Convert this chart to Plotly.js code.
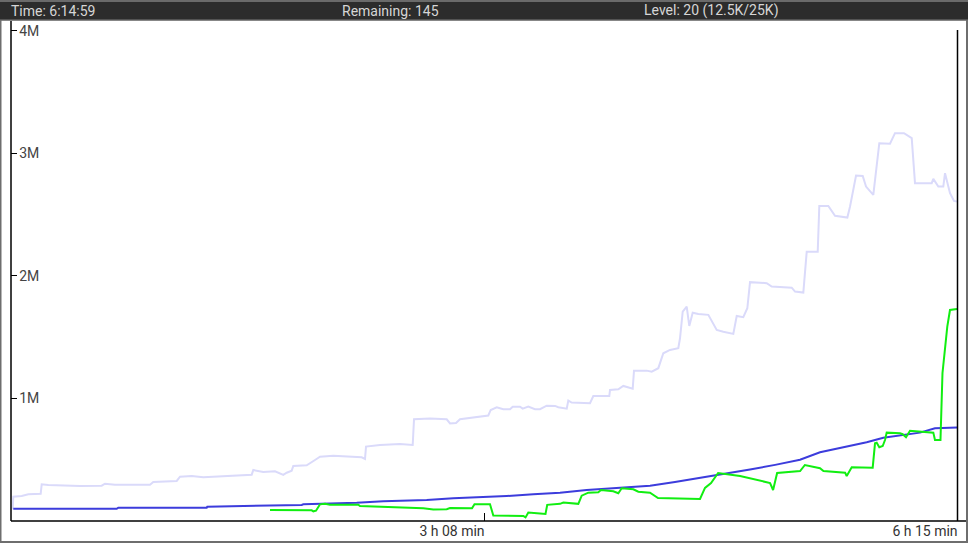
<!DOCTYPE html>
<html>
<head>
<meta charset="utf-8">
<script src="https://cdn.plot.ly/plotly-3.0.1.min.js"></script>
<style>
html,body{margin:0;padding:0;background:#fff;overflow:hidden;}
#chart{width:968px;height:543px;}
</style>
</head>
<body>
<div id="chart"></div>
<script>
// ---- data (x: minutes elapsed, y: millions) ----
const highX = [0.67,0.91,4.24,6.86,11.77,12.17,14.79,27.35,35.95,37.26,41.23,55.10,56.41,65.69,67.0,71.63,76.23,88.12,95.42,96.05,100.0,104.65,107.94,109.29,111.27,111.9,117.22,120.51,122.49,127.76,134.38,139.02,140.33,140.73,146.28,154.2,159.24,159.76,166.1,172.72,174.03,176.41,177.99,182.75,186.71,189.21,190.16,192.54,195.15,197.81,198.88,201.77,202.84,205.06,207.72,209.70,212.36,215.65,216.96,220.29,220.92,222.27,229.52,230.83,237.17,237.45,240.74,242.72,246.45,246.96,252.0,253.98,256.6,258.58,261.23,264.52,265.2,266.27,267.85,268.88,270.23,272.45,276.42,279.75,282.37,286.33,287.68,290.29,291.88,292.95,296.91,299.57,301.55,309.48,310.79,314.08,315.43,319.79,320.42,323.99,326.65,331.53,332.6,334.98,337.63,338.94,341.82,344.2,348.44,350.42,353.99,357.05,358.35,364.97,365.61,367.59,369.57,370.25,372.23,373.81,375.0];
const highY = [0.096,0.198,0.204,0.218,0.223,0.300,0.294,0.286,0.288,0.304,0.296,0.296,0.318,0.327,0.362,0.367,0.357,0.373,0.378,0.416,0.400,0.406,0.376,0.394,0.411,0.449,0.455,0.498,0.525,0.533,0.528,0.520,0.506,0.607,0.620,0.629,0.620,0.830,0.837,0.830,0.796,0.800,0.830,0.843,0.851,0.861,0.906,0.928,0.912,0.912,0.933,0.933,0.917,0.933,0.912,0.912,0.941,0.939,0.928,0.917,0.982,0.966,0.961,1.020,1.020,1.069,1.075,1.102,1.080,1.227,1.227,1.219,1.247,1.369,1.396,1.410,1.491,1.709,1.749,1.592,1.700,1.690,1.682,1.559,1.545,1.527,1.673,1.663,1.736,1.949,1.945,1.940,1.913,1.904,1.872,1.864,2.198,2.198,2.571,2.571,2.490,2.476,2.566,2.819,2.816,2.729,2.661,3.083,3.078,3.165,3.165,3.124,2.757,2.757,2.792,2.729,2.729,2.838,2.675,2.612,2.607];

const avgX = [0.91,41.9,42.54,77.58,77.82,98.03,98.71,115.24,115.87,127.76,137.04,147.58,164.79,175.33,185.92,196.5,207.05,217.63,228.21,238.76,253.31,263.2,273.13,283.0,292.95,302.9,312.77,320.7,331.28,339.21,345.79,351.1,360.33,366.27,375.0];
const avgY = [0.100,0.100,0.109,0.109,0.117,0.122,0.128,0.131,0.136,0.141,0.149,0.161,0.171,0.185,0.192,0.204,0.218,0.231,0.253,0.267,0.288,0.318,0.351,0.384,0.420,0.458,0.500,0.561,0.607,0.642,0.680,0.694,0.721,0.757,0.763];

const curX = [102.67,119.2,119.84,120.91,122.49,124.47,126.46,137.68,138.35,144.97,154.2,163.44,167.4,172.72,174.03,182.75,183.73,189.88,191.19,203.08,203.96,205.07,209.7,211.88,212.56,217.63,218.94,224.89,226.23,228.85,232.81,233.88,238.76,240.74,242.09,246.69,248.67,253.31,256.48,273.13,275.1,277.5,280.3,289.0,300.9,302.1,303.7,312.8,314.7,320.7,322.06,326.02,330.66,331.28,333.27,341.58,342.5,343.17,344.2,345.55,346.46,347.13,352.41,353.48,354.79,356.37,361.65,365.61,366.27,368.45,369.25,370.24,371.15,372.22,375.0];
const curY = [0.090,0.087,0.079,0.084,0.136,0.141,0.133,0.133,0.122,0.117,0.112,0.104,0.094,0.096,0.106,0.104,0.137,0.137,0.045,0.041,0.029,0.069,0.061,0.057,0.132,0.140,0.151,0.140,0.207,0.231,0.234,0.253,0.242,0.226,0.267,0.259,0.239,0.231,0.188,0.180,0.270,0.310,0.392,0.367,0.310,0.253,0.392,0.408,0.457,0.430,0.408,0.402,0.394,0.367,0.438,0.435,0.634,0.639,0.602,0.612,0.661,0.721,0.716,0.708,0.683,0.737,0.729,0.721,0.661,0.661,1.208,1.396,1.586,1.722,1.731];

const xTickVals = [187.5, 375];
const xTickText = ["3 h 08 min", "6 h 15 min"];
const yTickVals = [1, 2, 3, 4];
const yTickText = ["1M", "2M", "3M", "4M"];
const headerTexts = ["Time: 6:14:59", "Remaining: 145", "Level: 20 (12.5K/25K)"];

// ---- geometry helpers (paper coords) ----
const W = 968, H = 543, ML = 11, MR = 11, MT = 21, MB = 22;
const PW = W - ML - MR, PH = H - MT - MB;
const px = x => (x - ML) / PW;
const py = y => (H - MB - y) / PH;

const traces = [
  {x: highX, y: highY, mode: 'lines', line: {color: '#dadafa', width: 2}, hoverinfo: 'skip'},
  {x: avgX, y: avgY, mode: 'lines', line: {color: '#3c3cdc', width: 2}, hoverinfo: 'skip'},
  {x: curX, y: curY, mode: 'lines', line: {color: '#11ee11', width: 2}, hoverinfo: 'skip'}
];

const font = {family: 'Roboto, sans-serif', size: 14, color: '#333'};

const layout = {
  width: W, height: H,
  margin: {l: ML, r: MR, t: MT, b: MB, pad: 0},
  paper_bgcolor: '#fff', plot_bgcolor: '#fff',
  showlegend: false,
  font: font,
  xaxis: {
    range: [0, 375], showgrid: false, zeroline: false, showline: false,
    tickmode: 'array', tickvals: xTickVals, ticktext: xTickText,
    ticks: 'inside', ticklen: 8, tickwidth: 1, tickcolor: '#000',
    ticklabelshift: -32, ticklabelstandoff: 0,
    tickfont: {family: 'Roboto, sans-serif', size: 14, color: '#333'},
    fixedrange: true
  },
  yaxis: {
    range: [0, 4.08], showgrid: false, zeroline: false, showline: false,
    tickmode: 'array', tickvals: yTickVals, ticktext: yTickText,
    ticks: 'inside', ticklen: 6, tickwidth: 1, tickcolor: '#000',
    ticklabelposition: 'inside', ticklabelstandoff: 2,
    tickfont: {family: 'Roboto, sans-serif', size: 14, color: '#444'},
    fixedrange: true
  },
  shapes: [
    // header bar
    {type: 'rect', xref: 'paper', yref: 'paper', x0: px(0), x1: px(W), y0: py(20.5), y1: py(0), fillcolor: '#2c2c2c', line: {width: 0}, layer: 'above'},
    {type: 'line', xref: 'paper', yref: 'paper', x0: px(0), x1: px(W), y0: py(1), y1: py(1), line: {color: '#6a6a6a', width: 2}},
    {type: 'line', xref: 'paper', yref: 'paper', x0: px(0), x1: px(W), y0: py(20), y1: py(20), line: {color: '#7a7a7a', width: 1}},
    // outer frame
    {type: 'line', xref: 'paper', yref: 'paper', x0: px(0.5), x1: px(0.5), y0: py(20), y1: py(543), line: {color: '#6e6e6e', width: 2}},
    {type: 'line', xref: 'paper', yref: 'paper', x0: px(0), x1: px(W), y0: py(542), y1: py(542), line: {color: '#6e6e6e', width: 2}},
    {type: 'line', xref: 'paper', yref: 'paper', x0: px(967), x1: px(967), y0: py(20), y1: py(543), line: {color: '#6e6e6e', width: 2}},
    // plot frame
    {type: 'line', xref: 'paper', yref: 'paper', x0: px(11), x1: px(11), y0: py(21), y1: py(521), line: {color: '#000', width: 1.5}},
    {type: 'line', xref: 'paper', yref: 'paper', x0: px(11), x1: px(966), y0: py(521), y1: py(521), line: {color: '#000', width: 1.5}},
    {type: 'line', xref: 'paper', yref: 'paper', x0: px(957.5), x1: px(957.5), y0: py(30), y1: py(521), line: {color: '#000', width: 1.5}}
  ],
  annotations: [
    {xref: 'paper', yref: 'paper', x: px(9), y: py(11), xanchor: 'left', yanchor: 'middle', text: headerTexts[0], showarrow: false, font: {family: 'Roboto, sans-serif', size: 14, color: '#d6d6d6'}},
    {xref: 'paper', yref: 'paper', x: px(390), y: py(11), xanchor: 'center', yanchor: 'middle', text: headerTexts[1], showarrow: false, font: {family: 'Roboto, sans-serif', size: 14, color: '#d6d6d6'}},
    {xref: 'paper', yref: 'paper', x: px(642), y: py(11), xanchor: 'left', yanchor: 'middle', text: headerTexts[2], showarrow: false, font: {family: 'Roboto, sans-serif', size: 14, color: '#d6d6d6'}}
  ]
};

Plotly.newPlot('chart', traces, layout, {displayModeBar: false, staticPlot: true});
</script>
</body>
</html>
